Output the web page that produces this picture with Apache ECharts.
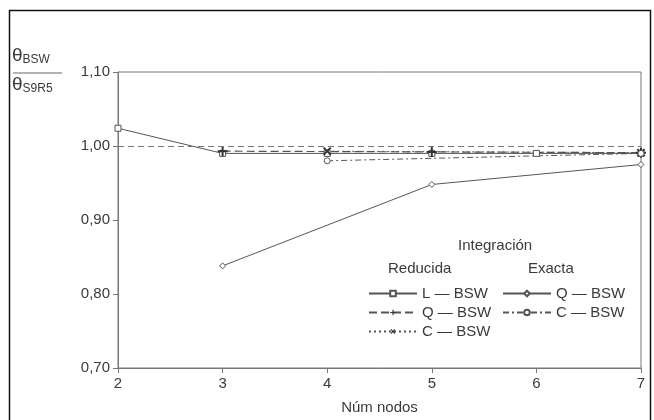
<!DOCTYPE html>
<html>
<head>
<meta charset="utf-8">
<script src="https://cdn.jsdelivr.net/npm/echarts@6/dist/echarts.min.js"></script>
<style>
  html, body { margin: 0; padding: 0; background: #fff; }
  #chart { width: 654px; height: 420px; }
</style>
</head>
<body>
<div id="chart"></div>
<script>
// valores
var nodos = [2, 3, 4, 5, 6, 7];
var yTicks = [0.7, 0.8, 0.9, 1.0, 1.1];
var lBswRed = [1.024, 0.990, 0.990, 0.990, 0.990, 0.990];   // nodos 2..7
var qBswRedX = [3, 5, 7];
var qBswRed = [0.993, 0.992, 0.991];
var cBswRedX = [4, 7];
var cBswRed = [0.993, 0.991];
var qBswExaX = [3, 5, 7];
var qBswExa = [0.838, 0.948, 0.975];
var cBswExaX = [4, 7];
var cBswExa = [0.980, 0.990];
var refLine = 1.0;

function pares(xs, ys) {
  return xs.map(function (x, i) { return [x, ys[i]]; });
}

var chartDom = document.getElementById("chart");
var myChart = echarts.init(chartDom);

var txtColor = "#3a3a3a";
var lineColor = "#555";
var font = "Liberation Sans";

var plusPath = "path://M4,0H6V4H10V6H6V10H4V6H0V4H4Z";

var option = {
  animation: false,
  textStyle: { fontFamily: font },
  grid: {
    left: 118,
    right: 13,
    top: 72,
    bottom: 51,
    show: true,
    borderColor: "#777",
    borderWidth: 1,
  },
  xAxis: {
    type: "value",
    min: 2,
    max: 7,
    interval: 1,
    name: "Núm nodos",
    nameLocation: "middle",
    nameGap: 32,
    nameTextStyle: { color: txtColor, fontSize: 15, fontFamily: font },
    axisLine: { lineStyle: { color: "#777" } },
    axisTick: { show: true, length: 5, lineStyle: { color: "#777" } },
    axisLabel: { color: txtColor, fontSize: 15, margin: 8, fontFamily: font },
    splitLine: { show: false },
  },
  yAxis: {
    type: "value",
    min: yTicks[0],
    max: yTicks[yTicks.length - 1],
    interval: 0.1,
    axisLine: { show: true, lineStyle: { color: "#777" } },
    axisTick: { show: true, length: 5, lineStyle: { color: "#777" } },
    axisLabel: {
      color: txtColor,
      fontSize: 15,
      margin: 8,
      fontFamily: font,
      formatter: function (v) {
        return v.toFixed(2).replace(".", ",");
      },
    },
    splitLine: { show: false },
  },
  legend: [
    {
      orient: "vertical",
      left: 363,
      top: 281,
      itemWidth: 48,
      itemHeight: 7,
      itemGap: 4,
      textStyle: { color: txtColor, fontSize: 15, fontFamily: font },
      data: ["L — BSW", "Q — BSW", "C — BSW"],
    },
    {
      orient: "vertical",
      left: 497,
      top: 281,
      itemWidth: 48,
      itemHeight: 7,
      itemGap: 4,
      textStyle: { color: txtColor, fontSize: 15, fontFamily: font },
      data: ["Q — BSW ", "C — BSW "],
    },
  ],
  graphic: [
    {
      type: "rect",
      shape: { x: 9.5, y: 10.5, width: 641, height: 412 },
      style: { fill: null, stroke: "#111", lineWidth: 1.5 },
      silent: true,
    },
    {
      type: "text",
      left: 12,
      top: 46,
      style: {
        text: "{t|θ}{s|BSW}",
        rich: {
          t: { fontSize: 19, fill: txtColor, fontFamily: font },
          s: { fontSize: 12, fill: txtColor, fontFamily: font, padding: [9, 0, 0, 0] },
        },
      },
    },
    {
      type: "line",
      shape: { x1: 13, y1: 73, x2: 62, y2: 73 },
      style: { stroke: "#666", lineWidth: 1 },
    },
    {
      type: "text",
      left: 12,
      top: 75,
      style: {
        text: "{t|θ}{s|S9R5}",
        rich: {
          t: { fontSize: 19, fill: txtColor, fontFamily: font },
          s: { fontSize: 12, fill: txtColor, fontFamily: font, padding: [9, 0, 0, 0] },
        },
      },
    },
    {
      type: "text",
      left: 458,
      top: 238,
      style: { text: "Integración", fontSize: 15, fill: txtColor, fontFamily: font },
    },
    {
      type: "text",
      left: 388,
      top: 261,
      style: { text: "Reducida", fontSize: 15, fill: txtColor, fontFamily: font },
    },
    {
      type: "text",
      left: 528,
      top: 261,
      style: { text: "Exacta", fontSize: 15, fill: txtColor, fontFamily: font },
    },
  ],
  series: [
    {
      name: "L — BSW",
      type: "line",
      data: pares(nodos, lBswRed),
      symbol: "rect",
      symbolSize: 6,
      lineStyle: { color: lineColor, width: 1, type: "solid" },
      itemStyle: { color: "#fff", borderColor: lineColor, borderWidth: 1 },
      markLine: {
        silent: true,
        symbol: "none",
        label: { show: false },
        lineStyle: { color: "#777", width: 1, type: [6, 4] },
        data: [{ yAxis: refLine }],
      },
    },
    {
      name: "Q — BSW",
      type: "line",
      data: pares(qBswRedX, qBswRed),
      symbol: plusPath,
      symbolSize: 10,
      lineStyle: { color: lineColor, width: 1.2, type: [8, 4] },
      itemStyle: { color: "#333" },
    },
    {
      name: "C — BSW",
      type: "line",
      data: pares(cBswRedX, cBswRed),
      symbol: plusPath,
      symbolSize: 10,
      symbolRotate: 45,
      lineStyle: { color: lineColor, width: 1, type: [2, 3] },
      itemStyle: { color: "#333" },
    },
    {
      name: "Q — BSW ",
      type: "line",
      data: pares(qBswExaX, qBswExa),
      symbol: "diamond",
      symbolSize: 6,
      lineStyle: { color: lineColor, width: 1, type: "solid" },
      itemStyle: { color: "#fff", borderColor: lineColor, borderWidth: 1 },
    },
    {
      name: "C — BSW ",
      type: "line",
      data: pares(cBswExaX, cBswExa),
      symbol: "circle",
      symbolSize: 6,
      lineStyle: { color: lineColor, width: 1, type: [6, 3, 2, 3] },
      itemStyle: { color: "#fff", borderColor: lineColor, borderWidth: 1 },
    },
  ],
};

myChart.setOption(option);
window.addEventListener("resize", function () {
  myChart.resize();
});
</script>
</body>
</html>
